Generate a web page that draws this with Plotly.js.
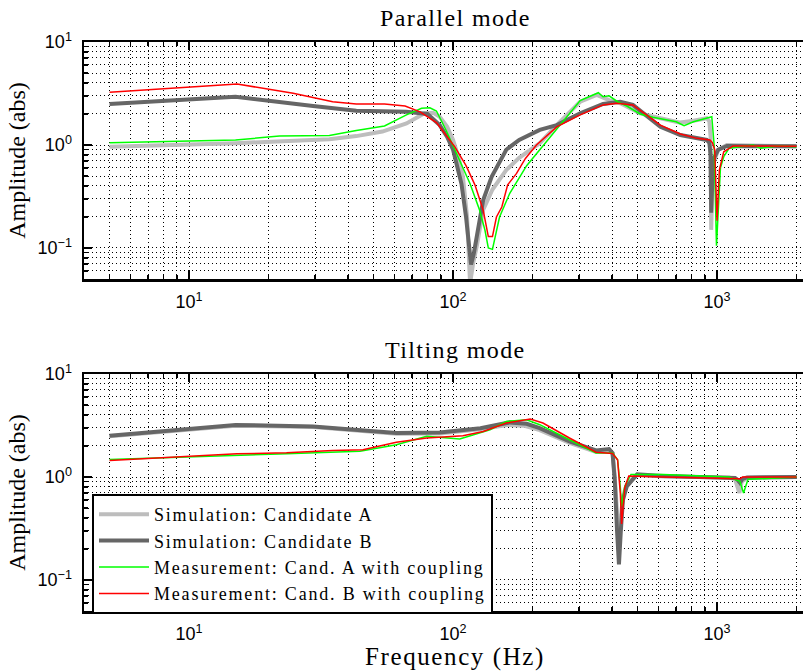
<!DOCTYPE html>
<html>
<head>
<meta charset="utf-8">
<script src="https://cdn.plot.ly/plotly-3.0.1.min.js"></script>
<style>
html,body{margin:0;padding:0;overflow:hidden;background:#fff;}
#chart{width:826px;height:671px;}
.legendtext{letter-spacing:1.8px;}
.annotation-text{letter-spacing:1.4px;}
.x2title{letter-spacing:1.6px;}
</style>
</head>
<body>
<div id="chart"></div>
<script>
// ---------- Parallel mode ----------
const parSimAFreq = [5, 15, 34, 43, 54, 66.6, 78, 84, 89, 95, 100, 105, 109, 113, 116, 119, 123, 130, 141, 159, 178, 213, 254, 303, 350, 390, 430, 511, 610, 726, 814, 914, 935, 945, 950, 958, 975, 1010, 1090, 2000];
const parSimAAmp  = [0.96, 1.04, 1.14, 1.22, 1.35, 1.62, 2.03, 2.06, 1.88, 1.5, 1.12, 0.75, 0.49, 0.2, 0.045, 0.07, 0.104, 0.234, 0.37, 0.57, 0.75, 1.04, 1.68, 2.63, 3.06, 2.73, 2.54, 2.03, 1.82, 1.65, 1.72, 1.82, 1.7, 1.2, 0.15, 0.35, 0.7, 0.9, 1.0, 0.97];

const parSimBFreq = [5, 15, 29.5, 43, 66.6, 80, 89, 95, 100, 104, 107.6, 112, 115, 117, 120, 123, 130, 140, 159, 178, 213, 247, 303, 370, 430, 480, 610, 726, 860, 914, 935, 945, 950, 958, 975, 1010, 1090, 2000];
const parSimBAmp  = [2.5, 2.94, 2.39, 2.15, 2.1, 2.0, 1.56, 1.2, 0.9, 0.6, 0.42, 0.2, 0.1, 0.069, 0.09, 0.13, 0.29, 0.49, 0.9, 1.12, 1.4, 1.56, 2.03, 2.5, 2.63, 2.45, 1.5, 1.25, 1.16, 1.12, 1.05, 0.8, 0.22, 0.4, 0.75, 0.9, 0.98, 0.97];

const parMeasAFreq = [5, 15, 22, 34, 43, 55, 66.6, 76, 81.7, 86.5, 94, 103, 116, 126, 132, 136, 141, 150, 164, 190, 233, 303, 355, 370, 390, 420, 455, 511, 572, 700, 750, 814, 955, 975, 995, 1010, 1030, 1060, 1110, 1370, 1460, 1700, 2000];
const parMeasAAmp  = [1.05, 1.12, 1.22, 1.24, 1.38, 1.53, 1.96, 2.27, 2.3, 2.14, 1.4, 0.83, 0.42, 0.234, 0.15, 0.1, 0.097, 0.2, 0.34, 0.63, 1.2, 2.7, 3.22, 2.94, 3.0, 2.63, 2.39, 2.0, 1.86, 1.68, 1.54, 1.68, 1.88, 1.0, 0.105, 0.25, 0.6, 0.77, 0.93, 1.0, 0.93, 0.98, 0.96];

const parMeasBFreq = [5, 15.2, 24.8, 35, 43, 55, 65.8, 75, 86.5, 101.6, 112, 121, 130, 136, 141, 146, 153, 161, 174, 188, 207, 247, 303, 370, 417, 480, 610, 726, 840, 940, 961, 980, 1000, 1020, 1060, 1150, 2000];
const parMeasBAmp  = [3.25, 3.91, 3.18, 2.63, 2.5, 2.5, 2.39, 2.1, 1.65, 0.96, 0.63, 0.41, 0.234, 0.129, 0.129, 0.2, 0.25, 0.41, 0.53, 0.74, 1.0, 1.5, 1.96, 2.45, 2.54, 2.45, 1.56, 1.28, 1.16, 1.12, 1.05, 0.9, 0.184, 0.57, 0.86, 0.98, 0.97];

// ---------- Tilting mode ----------
const tiltSimAFreq = [5, 15, 29.5, 43, 61, 89, 127, 160, 185, 213, 276, 348, 390, 402, 410, 418, 425, 432, 440, 455, 498, 625, 1110, 1170, 1200, 1215, 1240, 1300, 2000];
const tiltSimAAmp  = [2.48, 3.15, 3.05, 2.84, 2.63, 2.65, 2.9, 3.2, 3.15, 2.85, 2.15, 1.75, 1.8, 1.68, 1.0, 0.45, 0.25, 0.4, 0.65, 0.85, 1.05, 1.01, 0.99, 0.95, 0.8, 0.7, 0.9, 0.98, 1.0];

const tiltSimBFreq = [5, 15, 29.5, 43, 61, 89, 127, 164, 190, 213, 276, 348, 390, 402, 410, 418, 425, 432, 440, 455, 498, 625, 1110, 1170, 1200, 1220, 1250, 1300, 2000];
const tiltSimBAmp  = [2.52, 3.2, 3.1, 2.88, 2.67, 2.7, 2.98, 3.39, 3.29, 2.98, 2.22, 1.81, 1.87, 1.71, 0.9, 0.3, 0.142, 0.3, 0.6, 0.81, 1.06, 1.02, 1.0, 0.98, 0.93, 0.88, 0.96, 0.99, 1.0];

const tiltMeasAFreq = [5, 15.2, 23.4, 44.4, 61, 79.5, 106, 138, 159, 190, 213, 276, 348, 402, 420, 430, 435, 447, 472, 625, 1110, 1220, 1260, 1310, 2000];
const tiltMeasAAmp  = [1.48, 1.61, 1.68, 1.78, 2.06, 2.48, 2.34, 2.88, 3.46, 3.6, 3.22, 2.3, 1.71, 1.71, 1.47, 0.8, 0.52, 0.81, 1.06, 1.06, 1.0, 0.91, 0.7, 0.95, 1.0];

const tiltMeasBFreq = [5, 15.2, 23.4, 35, 45.6, 61, 79.5, 109, 130, 159, 196, 219, 276, 348, 402, 420, 430, 435, 447, 463, 625, 1220, 1250, 2000];
const tiltMeasBAmp  = [1.45, 1.68, 1.72, 1.81, 1.84, 2.17, 2.39, 2.52, 2.77, 3.34, 3.65, 3.34, 2.39, 1.74, 1.69, 1.47, 0.7, 0.35, 0.79, 1.02, 1.0, 0.96, 1.0, 1.0];

const seriesNames = ['Simulation: Candidate A', 'Simulation: Candidate B', 'Measurement: Cand. A with coupling', 'Measurement: Cand. B with coupling'];
const subplotTitles = ['Parallel mode', 'Tilting mode'];

const xMajor = [10, 100, 1000];
const xMajorText = ['10<sup>1</sup>', '10<sup>2</sup>', '10<sup>3</sup>'];
const yMajor = [0.1, 1, 10];
const yMajorText = ['10<sup>−1</sup>', '10<sup>0</sup>', '10<sup>1</sup>'];

const xMinor = [];
[1, 10, 100, 1000].forEach(d => { for (let k = 2; k <= 9; k++) xMinor.push(k * d); });
const yMinor = [];
[0.01, 0.1, 1].forEach(d => { for (let k = 2; k <= 9; k++) yMinor.push(k * d); });

const styles = [
  {color: '#bdbdbd', width: 4},
  {color: '#666666', width: 4},
  {color: '#00ff00', width: 1.5},
  {color: '#ff0000', width: 1.5}
];

const parX = [parSimAFreq, parSimBFreq, parMeasAFreq, parMeasBFreq];
const parY = [parSimAAmp, parSimBAmp, parMeasAAmp, parMeasBAmp];
const tiltX = [tiltSimAFreq, tiltSimBFreq, tiltMeasAFreq, tiltMeasBFreq];
const tiltY = [tiltSimAAmp, tiltSimBAmp, tiltMeasAAmp, tiltMeasBAmp];

const traces = [];
for (let i = 0; i < 4; i++) {
  traces.push({x: parX[i], y: parY[i], type: 'scatter', mode: 'lines', name: seriesNames[i],
    xaxis: 'x', yaxis: 'y', showlegend: false, line: styles[i], hoverinfo: 'skip'});
}
for (let i = 0; i < 4; i++) {
  traces.push({x: tiltX[i], y: tiltY[i], type: 'scatter', mode: 'lines', name: seriesNames[i],
    xaxis: 'x2', yaxis: 'y2', showlegend: true, line: styles[i], hoverinfo: 'skip'});
}

const W = 826;
const plotW = W - 84;
const gridDash = '1px,3px';
const gridColor = '#000';
const tickFont = {family: 'Liberation Sans, Arial, sans-serif', size: 18, color: '#000'};
const serif = 'Liberation Serif, Times New Roman, serif';

function xAxis(extra) {
  return Object.assign({
    type: 'log', range: [Math.log10(4), Math.log10(4) + plotW / 264],
    tickmode: 'array', tickvals: xMajor, ticktext: xMajorText,
    ticks: 'inside', ticklen: 8, tickwidth: 2, tickcolor: '#000', ticklabelstandoff: 5,
    showline: true, linewidth: 2.5, linecolor: '#000', mirror: 'ticks',
    showgrid: true, gridcolor: gridColor, griddash: gridDash, gridwidth: 1,
    minor: {tickmode: 'array', tickvals: xMinor, ticks: 'inside', ticklen: 4, tickwidth: 1.5, tickcolor: '#000',
            showgrid: true, gridcolor: gridColor, griddash: gridDash, gridwidth: 1},
    tickfont: tickFont, zeroline: false, fixedrange: true
  }, extra);
}
function yAxis(extra) {
  return Object.assign({
    type: 'log', range: [Math.log10(0.05), 1],
    tickmode: 'array', tickvals: yMajor, ticktext: yMajorText,
    ticks: 'inside', ticklen: 8, tickwidth: 2, tickcolor: '#000', ticklabelstandoff: 6,
    showline: true, linewidth: 2.5, linecolor: '#000', mirror: 'ticks',
    showgrid: true, gridcolor: gridColor, griddash: gridDash, gridwidth: 1,
    minor: {tickmode: 'array', tickvals: yMinor, ticks: 'inside', ticklen: 4, tickwidth: 1.5, tickcolor: '#000',
            showgrid: true, gridcolor: gridColor, griddash: gridDash, gridwidth: 1},
    tickfont: tickFont, zeroline: false, fixedrange: true,
    title: {text: 'Amplitude (abs)', font: {family: serif, size: 24, color: '#000'}, standoff: 5}
  }, extra);
}

const layout = {
  width: W, height: 671,
  margin: {l: 84, r: 0, t: 0, b: 0},
  paper_bgcolor: '#fff', plot_bgcolor: '#fff',
  showlegend: true,
  xaxis: xAxis({anchor: 'y', domain: [0, 1]}),
  yaxis: yAxis({anchor: 'x', domain: [1 - 279 / 671, 1 - 42 / 671]}),
  xaxis2: xAxis({anchor: 'y2', domain: [0, 1],
    title: {text: 'Frequency (Hz)', font: {family: serif, size: 25, color: '#000'}, standoff: 4}}),
  yaxis2: yAxis({anchor: 'x2', domain: [1 - 611 / 671, 1 - 374 / 671]}),
  legend: {
    x: (92 - 84) / plotW, y: 1 - 494 / 671, xanchor: 'left', yanchor: 'top',
    bgcolor: '#fff', bordercolor: '#000', borderwidth: 2,
    font: {family: serif, size: 18, color: '#000'},
    itemwidth: 50, tracegroupgap: 0
  },
  annotations: [
    {text: subplotTitles[0], xref: 'paper', yref: 'paper', x: 0.5, y: 1 - 18 / 671,
     xanchor: 'center', yanchor: 'middle', showarrow: false, font: {family: serif, size: 24, color: '#000'}},
    {text: subplotTitles[1], xref: 'paper', yref: 'paper', x: 0.5, y: 1 - 350 / 671,
     xanchor: 'center', yanchor: 'middle', showarrow: false, font: {family: serif, size: 24, color: '#000'}}
  ]
};

Plotly.newPlot('chart', traces, layout, {displayModeBar: false, staticPlot: true});
</script>
</body>
</html>
